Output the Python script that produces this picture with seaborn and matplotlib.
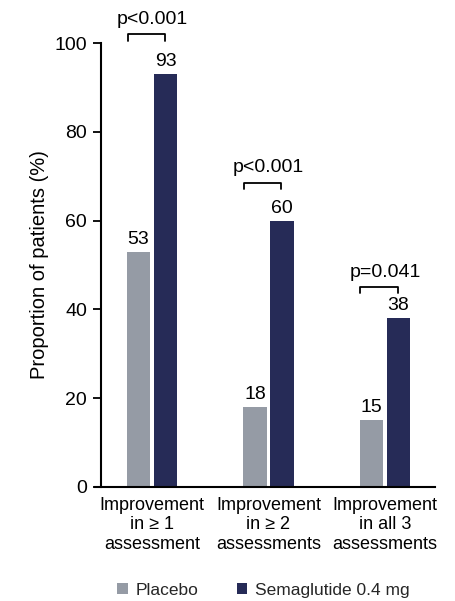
import matplotlib
matplotlib.use("Agg")
import matplotlib.pyplot as plt
import seaborn as sns
import pandas as pd

categories = ["Improvement\nin \u2265 1\nassessment",
              "Improvement\nin \u2265 2\nassessments",
              "Improvement\nin all 3\nassessments"]
placebo = [53, 18, 15]
semaglutide = [93, 60, 38]
groups = ["Placebo", "Semaglutide 0.4 mg"]
p_values = ["p<0.001", "p<0.001", "p=0.041"]
bracket_levels = [102, 68.5, 45]

colors = {"Placebo": "#959ba5", "Semaglutide 0.4 mg": "#262b57"}

df = pd.DataFrame({
    "category": categories * 2,
    "group": [groups[0]] * 3 + [groups[1]] * 3,
    "value": placebo + semaglutide,
})

sns.set_theme(style="ticks")
plt.rcParams["font.family"] = ["Liberation Sans", "DejaVu Sans"]

fig = plt.figure(figsize=(4.56, 6.01), dpi=100)
ax = fig.add_axes([0.2215, 0.19, 0.954 - 0.2215, 0.928 - 0.19])

sns.barplot(data=df, x="category", y="value", hue="group", palette=colors,
            width=0.464, gap=0.14, ax=ax, legend=True, saturation=1,
            edgecolor="none")

ax.set_ylim(0, 100)
ax.set_xlim(-0.438, 2.43)
ax.set_yticks([0, 20, 40, 60, 80, 100])
ax.tick_params(axis="y", labelsize=14, length=6, width=1.3, color="black",
               labelcolor="black", pad=4)
ax.tick_params(axis="x", labelsize=13, length=0, pad=7, labelcolor="black")
for lbl in ax.get_xticklabels():
    lbl.set_multialignment("center")
    lbl.set_linespacing(1.05)
ax.set_xlabel("")
ax.set_ylabel("Proportion of patients (%)", fontsize=14.5, color="black",
              labelpad=4)
for side in ["top", "right"]:
    ax.spines[side].set_visible(False)
for side in ["left", "bottom"]:
    ax.spines[side].set_linewidth(1.5)
    ax.spines[side].set_color("black")
ax.spines["bottom"].set_bounds(-0.49, 2.43)
ax.spines["bottom"].set_position(("data", 0))

# value labels above each bar
for cont in ax.containers:
    ax.bar_label(cont, fmt="%d", padding=3, fontsize=14, color="black")

# significance brackets
for i, (pv, yb) in enumerate(zip(p_values, bracket_levels)):
    x1, x2 = i - 0.21, i + 0.11
    ax.plot([x1, x1, x2, x2], [yb - 1.4, yb, yb, yb - 1.4], color="black",
            lw=1.3, clip_on=False)
    ax.text((x1 + x2) / 2 + 0.05, yb + 1.5, pv, ha="center", va="bottom",
            fontsize=14, color="black", clip_on=False)

handles, labels = ax.get_legend_handles_labels()
ax.get_legend().remove()
fig.legend(handles, labels, loc="center", bbox_to_anchor=(0.578, 0.018),
           ncol=2, frameon=False, fontsize=12.5, handlelength=0.6,
           handleheight=0.6, handletextpad=0.45, columnspacing=2.2)

fig.savefig("out.png", dpi=100, facecolor="white")
